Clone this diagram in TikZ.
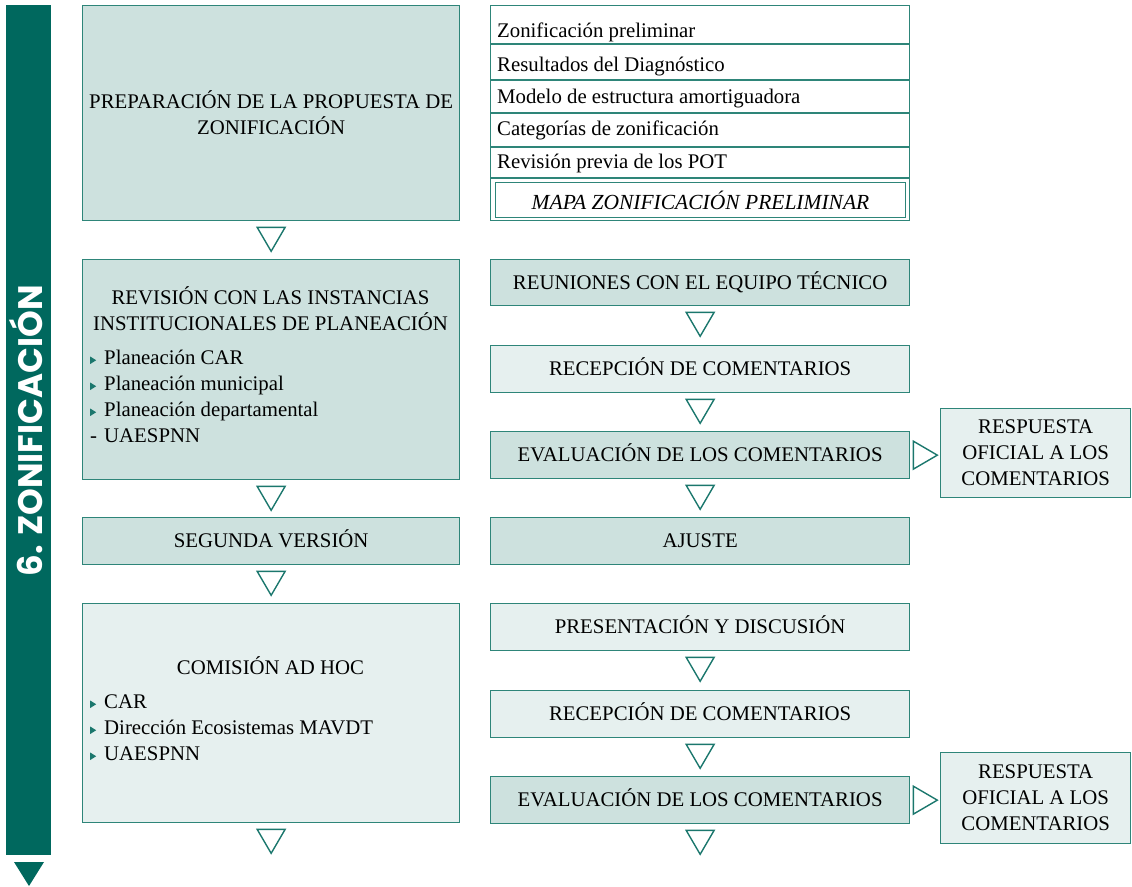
\documentclass[tikz,border=0pt]{standalone}
\usepackage{fontspec}
\setmainfont{Liberation Serif}
\newfontfamily\barfont{Poppins}
\usetikzlibrary{positioning,calc}
\definecolor{zbar}{HTML}{00685E}
\definecolor{zline}{HTML}{2E8579}
\definecolor{ztri}{HTML}{1B776D}
\definecolor{zdark}{HTML}{CDE1DE}
\definecolor{zlight}{HTML}{E6F0EF}

% small teal bullet
\newcommand{\tribul}{\tikz[baseline=0pt]\fill[ztri] (0pt,0pt) -- (0pt,7.5pt) -- (6pt,3.75pt) -- cycle;}
% open triangles between steps
\newcommand{\downtri}[1]{\draw[tri] ($(#1.south)+(-14,6)$) -- ++(28,0) -- ++(-14,24) -- cycle;}
\newcommand{\righttri}[1]{\draw[tri] ($(#1.east)+(3,-14)$) -- ++(0,28) -- ++(24,-14) -- cycle;}

\begin{document}
\begin{tikzpicture}[x=1pt,y=-1pt]

  % Set default font
  \tikzset{
    every node/.style={font=\fontsize{20.8}{26}\selectfont, inner sep=0pt},
    stepbox/.style={draw=zline, line width=1.3pt, anchor=north west, align=center},
    capbox/.style={stepbox, text height=13.5pt, text depth=0pt},
    tri/.style={draw=ztri, line width=1.4pt, line join=miter},
    item/.style={anchor=base west, align=left}
  }

  \useasboundingbox (0,0) rectangle (1132,886);

  % Side bar
  \fill[zbar] (6,5) rectangle (51,855);
  \fill[zbar] (14,862) -- (44,862) -- (29,886) -- cycle;
  \node[
    rotate=90,
    text=white,
    font=\barfont\bfseries\fontsize{34}{40}\selectfont,
    text height=24pt,
    text depth=0pt
  ] (bartitle) at (30,431) {6. ZONIFICACIÓN};

  % Left column
  \node[stepbox, fill=zdark, minimum width=377pt, minimum height=215pt]
    (prep) at (82,5) {PREPARACIÓN DE LA PROPUESTA DE\\ZONIFICACIÓN};

  \node[stepbox, fill=zdark, minimum width=377pt, minimum height=220pt]
    (rev) at (82,259) {};
  \node[anchor=base] (revt1) at (270.5,304) {REVISIÓN CON LAS INSTANCIAS};
  \node[anchor=base] (revt2) at (270.5,330) {INSTITUCIONALES DE PLANEACIÓN};
  \node[item] (rev1) at (90,364) {\makebox[14pt][l]{\tribul}Planeación CAR};
  \node[item] (rev2) at (90,390) {\makebox[14pt][l]{\tribul}Planeación municipal};
  \node[item] (rev3) at (90,416) {\makebox[14pt][l]{\tribul}Planeación departamental};
  \node[item] (rev4) at (90,442) {\makebox[14pt][l]{-}UAESPNN};

  \node[capbox, fill=zdark, minimum width=377pt, minimum height=47pt]
    (seg) at (82,517) {SEGUNDA VERSIÓN};

  \node[stepbox, fill=zlight, minimum width=377pt, minimum height=219pt]
    (com) at (82,603) {};
  \node[anchor=base] (comt) at (270.5,674) {COMISIÓN AD HOC};
  \node[item] (com1) at (90,708) {\makebox[14pt][l]{\tribul}CAR};
  \node[item] (com2) at (90,734) {\makebox[14pt][l]{\tribul}Dirección Ecosistemas MAVDT};
  \node[item] (com3) at (90,760) {\makebox[14pt][l]{\tribul}UAESPNN};

  % Right column: inputs
  \node[stepbox, fill=white, minimum width=419pt, minimum height=215pt]
    (inputs) at (490,5) {};
  \foreach \y in {39,75,108,142,173}
    \draw[zline, line width=1.3pt] ($(inputs.north west)+(0,\y)$) -- ($(inputs.north east)+(0,\y)$);
  \node[item] (in1) at (497,37) {Zonificación preliminar};
  \node[item] (in2) at (497,71) {Resultados del Diagnóstico};
  \node[item] (in3) at (497,103) {Modelo de estructura amortiguadora};
  \node[item] (in4) at (497,135) {Categorías de zonificación};
  \node[item] (in5) at (497,168) {Revisión previa de los POT};
  \node[stepbox, line width=1pt, minimum width=410pt, minimum height=35pt,
    font=\fontsize{21.5}{26}\selectfont\itshape]
    (mapa) at (495,182) {MAPA ZONIFICACIÓN PRELIMINAR};

  % Right column: review steps
  \node[capbox, fill=zdark, minimum width=419pt, minimum height=46pt]
    (reun) at (490,259) {REUNIONES CON EL EQUIPO TÉCNICO};
  \node[capbox, fill=zlight, minimum width=419pt, minimum height=47pt]
    (recep1) at (490,345) {RECEPCIÓN DE COMENTARIOS};
  \node[capbox, fill=zdark, minimum width=419pt, minimum height=47pt]
    (eval1) at (490,431) {EVALUACIÓN DE LOS COMENTARIOS};
  \node[stepbox, fill=zlight, minimum width=190pt, minimum height=89pt]
    (resp1) at (940,408) {RESPUESTA\\OFICIAL A LOS\\COMENTARIOS};
  \node[capbox, fill=zdark, minimum width=419pt, minimum height=47pt]
    (ajuste) at (490,517) {AJUSTE};

  \node[capbox, fill=zlight, minimum width=419pt, minimum height=47pt]
    (pres) at (490,603) {PRESENTACIÓN Y DISCUSIÓN};
  \node[capbox, fill=zlight, minimum width=419pt, minimum height=47pt]
    (recep2) at (490,690) {RECEPCIÓN DE COMENTARIOS};
  \node[capbox, fill=zdark, minimum width=419pt, minimum height=47pt]
    (eval2) at (490,776) {EVALUACIÓN DE LOS COMENTARIOS};
  \node[stepbox, fill=zlight, minimum width=190pt, minimum height=91pt]
    (resp2) at (940,752) {RESPUESTA\\OFICIAL A LOS\\COMENTARIOS};

  % Triangles
  \foreach \n in {prep,rev,seg,com,reun,recep1,eval1,pres,recep2,eval2}
    {\downtri{\n}}
  \righttri{eval1}
  \righttri{eval2}

\end{tikzpicture}
\end{document}
